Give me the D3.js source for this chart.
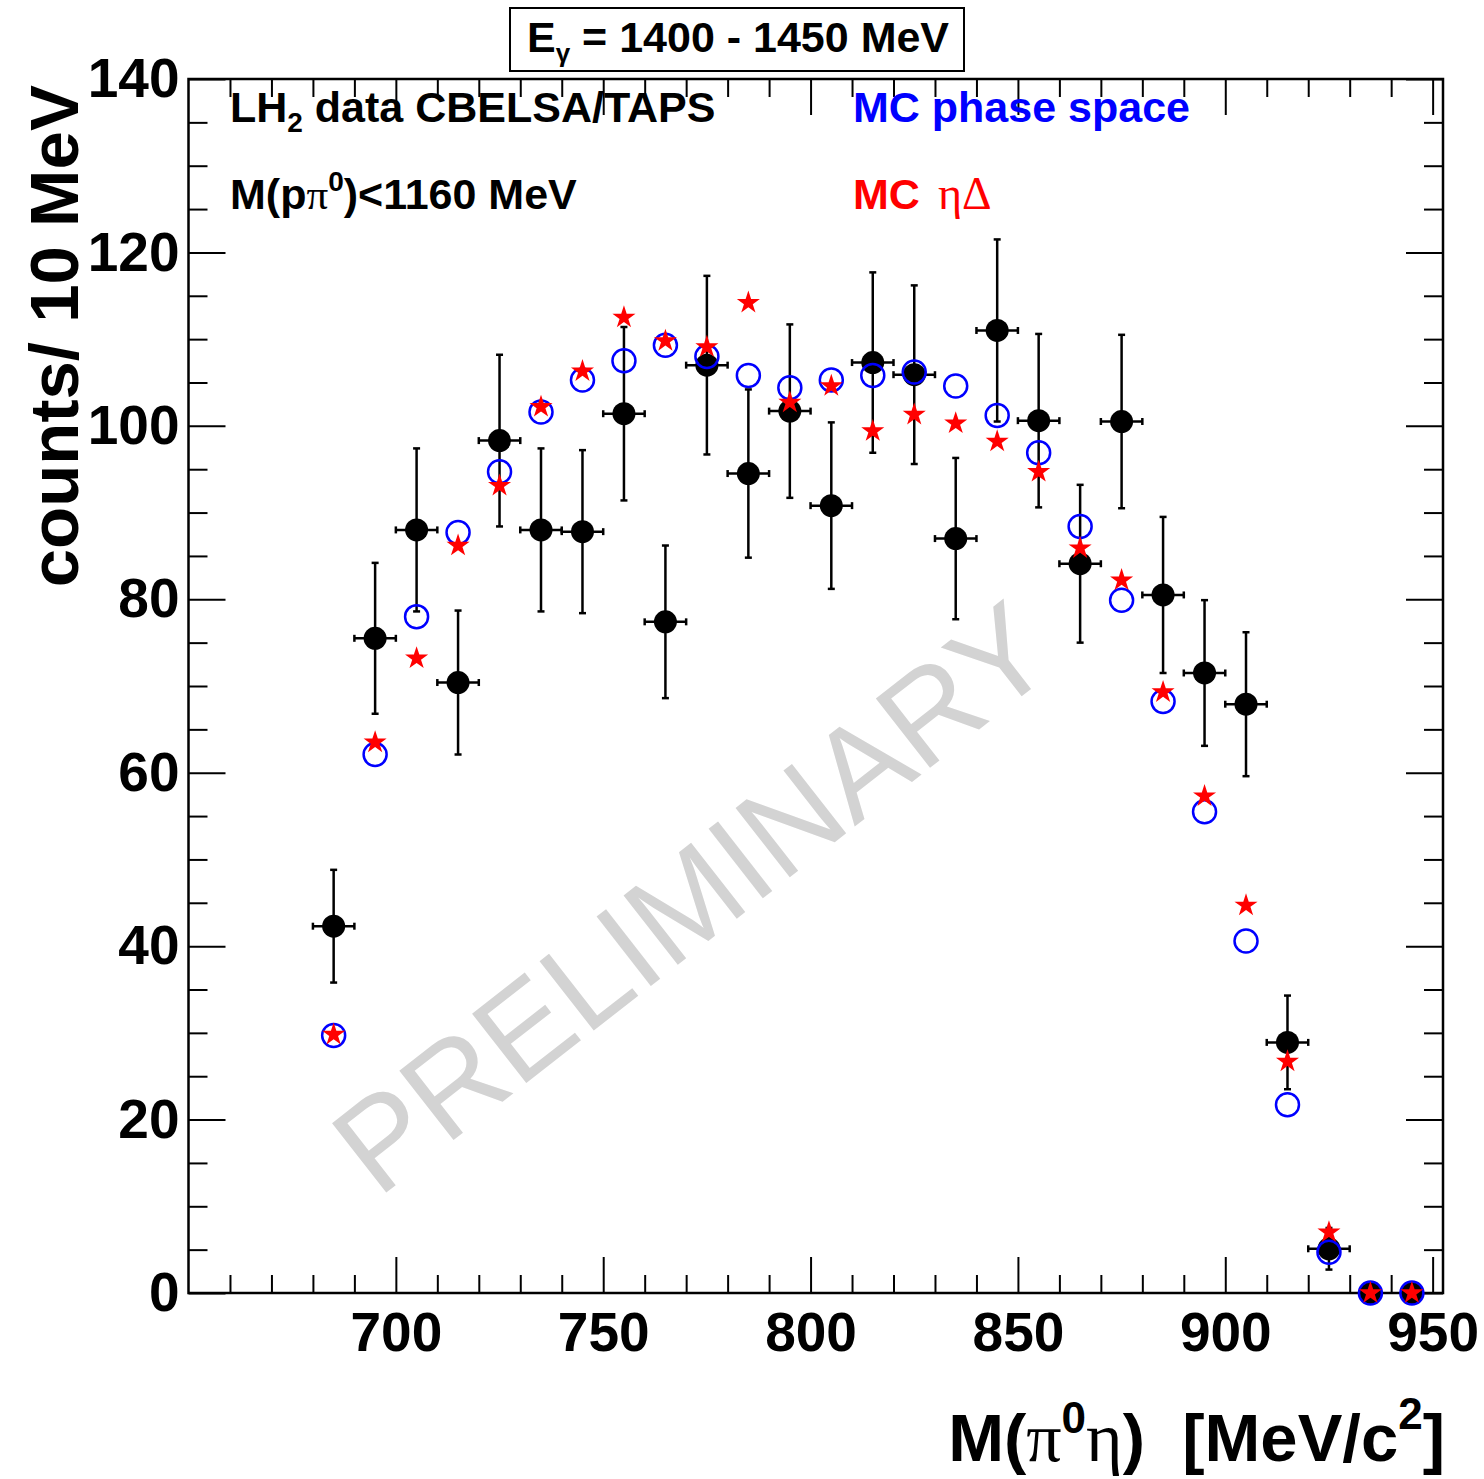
<!DOCTYPE html>
<html><head><meta charset="utf-8">
<script src="https://cdn.jsdelivr.net/npm/d3@7"></script>
<style>body{margin:0;background:#fff}</style>
</head><body>
<svg id="c" width="1484" height="1479" xmlns="http://www.w3.org/2000/svg"></svg>
<script>
// ---- data ----
const binCenters = [685,695,705,715,725,735,745,755,765,775,785,795,805,815,825,835,845,855,865,875,885,895,905,915,925,935,945];
const binHalfWidth = 5;
const dataCounts = [42.3,75.5,88.0,70.4,98.3,88.0,87.8,101.4,77.4,107.0,94.5,101.7,90.8,107.3,105.9,87.0,111.0,100.6,84.1,100.5,80.5,71.5,67.9,28.9,5.1,0,0];
const dataErrors = [6.5,8.7,9.4,8.3,9.9,9.4,9.4,10.0,8.8,10.3,9.7,10.0,9.6,10.4,10.3,9.3,10.5,10.0,9.1,10.0,9.0,8.4,8.3,5.4,2.4,0,0];
const mcPhaseSpace = [29.7,62.1,78.0,87.7,94.7,101.6,105.3,107.5,109.3,108.0,105.8,104.4,105.3,105.8,106.2,104.6,101.2,96.9,88.4,79.9,68.2,55.5,40.6,21.7,4.7,0,0];
const mcEtaDelta = [29.8,63.5,73.2,86.2,93.1,102.2,106.3,112.5,109.8,109.1,114.2,102.7,104.6,99.4,101.3,100.3,98.2,94.7,85.9,82.2,69.3,57.3,44.7,26.7,7.0,0,0];
const xMajorTicks = [700,750,800,850,900,950];
const yMajorTicks = [0,20,40,60,80,100,120,140];
const xMinorTicks = [660,670,680,690,710,720,730,740,760,770,780,790,810,820,830,840,860,870,880,890,910,920,930,940];
const yMinorTicks = [5,10,15,25,30,35,45,50,55,65,70,75,85,90,95,105,110,115,125,130,135];
const xDomain = [650, 952.5];
const yDomain = [0, 140];

// ---- layout ----
const L = 188.5, R = 1443, T = 79, B = 1293;
const SANS = "'Liberation Sans', Arial, Helvetica, sans-serif";
const SERIF = "'Liberation Serif', 'Times New Roman', serif";

const svg = d3.select('#c');
svg.append('rect').attr('width',1484).attr('height',1479).attr('fill','#fff');

const x = d3.scaleLinear().domain(xDomain).range([L, R]);
const y = d3.scaleLinear().domain(yDomain).range([B, T]);

// watermark
svg.append('text')
  .attr('transform','translate(378,1199) rotate(-38)')
  .attr('font-family', SANS).attr('font-size', 128).attr('fill', '#d3d3d3')
  .text('PRELIMINARY');

// axes
function styleAxis(g){
  g.select('.domain').remove();
  g.selectAll('.tick line').attr('stroke','#000').attr('stroke-width',2);
  g.selectAll('.tick text').attr('font-family',SANS).attr('font-weight','bold')
    .attr('font-size',55).attr('fill','#000');
}
svg.append('g').attr('transform',`translate(0,${B})`)
  .call(d3.axisBottom(x).tickValues(xMajorTicks).tickSizeInner(-36).tickSizeOuter(0).tickPadding(19).tickFormat(d3.format('d')))
  .call(styleAxis);
svg.append('g').attr('transform',`translate(0,${B})`)
  .call(d3.axisBottom(x).tickValues(xMinorTicks).tickSizeInner(-18).tickSizeOuter(0).tickFormat(''))
  .call(styleAxis);
svg.append('g').attr('transform',`translate(0,${T})`)
  .call(d3.axisTop(x).tickValues(xMajorTicks).tickSizeInner(-36).tickSizeOuter(0).tickFormat(''))
  .call(styleAxis);
svg.append('g').attr('transform',`translate(0,${T})`)
  .call(d3.axisTop(x).tickValues(xMinorTicks).tickSizeInner(-18).tickSizeOuter(0).tickFormat(''))
  .call(styleAxis);
svg.append('g').attr('transform',`translate(${L},0)`)
  .call(d3.axisLeft(y).tickValues(yMajorTicks).tickSizeInner(-37).tickSizeOuter(0).tickPadding(9).tickFormat(d3.format('d')))
  .call(styleAxis);
svg.append('g').attr('transform',`translate(${L},0)`)
  .call(d3.axisLeft(y).tickValues(yMinorTicks).tickSizeInner(-19).tickSizeOuter(0).tickFormat(''))
  .call(styleAxis);
svg.append('g').attr('transform',`translate(${R},0)`)
  .call(d3.axisRight(y).tickValues(yMajorTicks).tickSizeInner(-37).tickSizeOuter(0).tickFormat(''))
  .call(styleAxis);
svg.append('g').attr('transform',`translate(${R},0)`)
  .call(d3.axisRight(y).tickValues(yMinorTicks).tickSizeInner(-19).tickSizeOuter(0).tickFormat(''))
  .call(styleAxis);

// frame
svg.append('rect').attr('x',L).attr('y',T).attr('width',R-L).attr('height',B-T)
  .attr('fill','none').attr('stroke','#000').attr('stroke-width',2.5);

// data
const pts = binCenters.map((c,i)=>({c, v:dataCounts[i], e:dataErrors[i], ps:mcPhaseSpace[i], ed:mcEtaDelta[i]}));
const eg = svg.append('g').attr('stroke','#000').attr('stroke-width',2.5);
const cap = 3.5;
pts.filter(d=>d.v>0).forEach(d=>{
  const cx = x(d.c), cy = y(d.v);
  const x0 = x(d.c-binHalfWidth), x1 = x(d.c+binHalfWidth);
  const y0 = y(d.v-d.e), y1 = y(d.v+d.e);
  eg.append('line').attr('x1',x0).attr('x2',x1).attr('y1',cy).attr('y2',cy);
  eg.append('line').attr('x1',x0).attr('x2',x0).attr('y1',cy-cap).attr('y2',cy+cap);
  eg.append('line').attr('x1',x1).attr('x2',x1).attr('y1',cy-cap).attr('y2',cy+cap);
  eg.append('line').attr('x1',cx).attr('x2',cx).attr('y1',y0).attr('y2',y1);
  eg.append('line').attr('x1',cx-cap).attr('x2',cx+cap).attr('y1',y0).attr('y2',y0);
  eg.append('line').attr('x1',cx-cap).attr('x2',cx+cap).attr('y1',y1).attr('y2',y1);
});
svg.append('g').selectAll('circle').data(pts).join('circle')
  .attr('cx',d=>x(d.c)).attr('cy',d=>y(d.v)).attr('r',11.5).attr('fill','#000');
svg.append('g').selectAll('circle').data(pts).join('circle')
  .attr('cx',d=>x(d.c)).attr('cy',d=>y(d.ps)).attr('r',11.5)
  .attr('fill','none').attr('stroke','#0000ff').attr('stroke-width',2.5);
const star = d3.symbol().type(d3.symbolStar).size(165);
svg.append('g').selectAll('path').data(pts).join('path')
  .attr('transform',d=>`translate(${x(d.c)},${y(d.ed)})`).attr('d',star).attr('fill','#ff0000');

// title box
svg.append('rect').attr('x',510).attr('y',8).attr('width',454).attr('height',63)
  .attr('fill','#fff').attr('stroke','#000').attr('stroke-width',2);
const t = svg.append('text').attr('x',527).attr('y',52).attr('font-family',SANS)
  .attr('font-weight','bold').attr('font-size',43).attr('fill','#000');
t.append('tspan').text('E');
t.append('tspan').attr('font-size',26).attr('dy',10).text('γ');
t.append('tspan').attr('dy',-10).text(' = 1400 - 1450 MeV');

// labels in plot
const l1 = svg.append('text').attr('x',230).attr('y',122).attr('font-family',SANS)
  .attr('font-weight','bold').attr('font-size',43).attr('fill','#000');
l1.append('tspan').text('LH');
l1.append('tspan').attr('font-size',28).attr('dy',10).text('2');
l1.append('tspan').attr('dy',-10).text(' data CBELSA/TAPS');

const l2 = svg.append('text').attr('x',230).attr('y',209).attr('font-family',SANS)
  .attr('font-weight','bold').attr('font-size',43).attr('fill','#000');
l2.append('tspan').text('M(p');
l2.append('tspan').attr('font-family',SERIF).attr('font-weight','normal').text('π');
l2.append('tspan').attr('font-size',28).attr('dy',-18).text('0');
l2.append('tspan').attr('dy',18).text(')<1160 MeV');

svg.append('text').attr('x',853).attr('y',122).attr('font-family',SANS)
  .attr('font-weight','bold').attr('font-size',43).attr('fill','#0000ff').text('MC phase space');
const l4 = svg.append('text').attr('x',853).attr('y',209).attr('font-family',SANS)
  .attr('font-weight','bold').attr('font-size',43).attr('fill','#ff0000');
l4.append('tspan').text('MC');
l4.append('tspan').attr('x',938).attr('font-family',SERIF).attr('font-weight','normal').attr('font-size',46).text('ηΔ');

// axis titles
svg.append('text').attr('transform','translate(78,85) rotate(-90)')
  .attr('text-anchor','end').attr('font-family',SANS).attr('font-weight','bold')
  .attr('font-size',69).attr('fill','#000').text('counts/ 10 MeV');

const xt = svg.append('text').attr('x',1445).attr('y',1461).attr('text-anchor','end')
  .attr('font-family',SANS).attr('font-weight','bold').attr('font-size',67).attr('fill','#000');
xt.append('tspan').text('M(');
xt.append('tspan').attr('font-family',SERIF).attr('font-weight','normal').attr('font-size',70).text('π');
xt.append('tspan').attr('font-size',44).attr('dy',-28).text('0');
xt.append('tspan').attr('font-family',SERIF).attr('font-weight','normal').attr('font-size',70).attr('dy',28).text('η');
xt.append('tspan').text(')\u00A0\u00A0[MeV/c');
xt.append('tspan').attr('font-size',44).attr('dy',-32).text('2');
xt.append('tspan').attr('dy',32).text(']');
</script>
</body></html>
